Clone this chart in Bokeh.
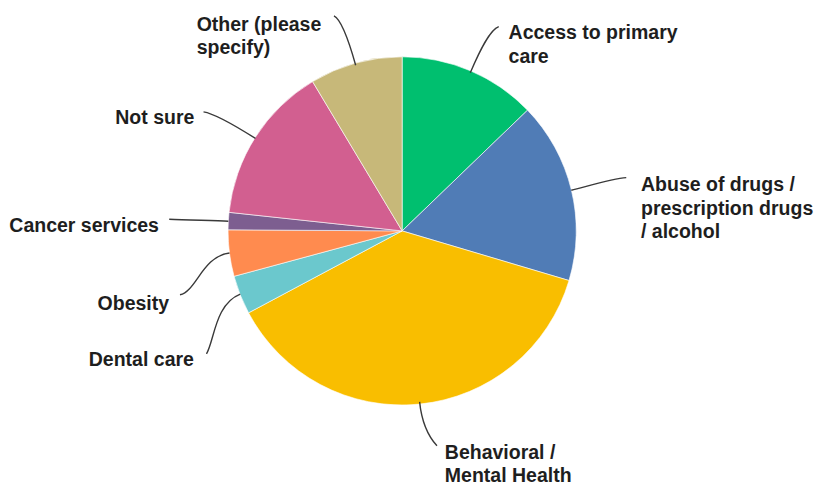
import math
from bokeh.plotting import figure
from bokeh.models import Range1d
from bokeh.core.properties import value
from bokeh.embed import file_html
from bokeh.resources import INLINE

# ---- data ----
categories = [
    "Access to primary\ncare",
    "Abuse of drugs /\nprescription drugs\n/ alcohol",
    "Behavioral /\nMental Health",
    "Dental care",
    "Obesity",
    "Cancer services",
    "Not sure",
    "Other (please\nspecify)",
]
percents = [12.8, 16.8, 37.6, 3.6, 4.3, 1.6, 14.7, 8.6]
colors = ["#00BF6F", "#507CB6", "#F9BE00", "#6BC8CD", "#FF8B4F", "#7D5E90", "#D25F90", "#C7B879"]

# ---- layout (reference pixel coords, y downward) ----
W, H = 834, 501
CX, CY, R = 409.5, 238.0, 177.5
# text anchor: left x, first baseline y
text_pos = [(518, 33), (653, 190), (453, 466), (90, 370), (99, 312), (9, 232), (117, 120), (200, 24)]
# leader end points and second control points
leader_end = [(508, 27), (638, 183), (445, 460), (210, 365), (183, 304), (172, 226), (207, 115), (340, 16)]
leader_c2 = [(499, 30), (624, 184), (436, 450), (218, 352), (200, 300), (190, 227), (220, 117), (348, 20)]
leader_ext = [25, 15, 22, 28, 28, 15, 20, 20]
LINE_H = 24


def fy(y):
    return H - y


p = figure(width=818, height=485, output_backend="svg", toolbar_location=None,
           x_range=Range1d(0, W), y_range=Range1d(fy(H), fy(0)),
           min_border=0, x_axis_location=None, y_axis_location=None)
p.grid.visible = False
p.outline_line_color = None
p.background_fill_color = "white"
p.border_fill_color = "white"

total = sum(percents)
cum = 0.0
for i, v in enumerate(percents):
    t0 = cum / total * 360.0
    t1 = (cum + v) / total * 360.0
    cum += v
    p.wedge(x=CX, y=fy(CY), radius=R, radius_units="data",
            start_angle=math.radians(90 - t1), end_angle=math.radians(90 - t0),
            fill_color=colors[i], line_color="white", line_width=0.6)
    tm = math.radians((t0 + t1) / 2)
    dx, dy = math.sin(tm), -math.cos(tm)
    x0, y0 = CX + R * dx, CY + R * dy
    c1x, c1y = x0 + leader_ext[i] * dx, y0 + leader_ext[i] * dy
    c2x, c2y = leader_c2[i]
    x1, y1 = leader_end[i]
    p.bezier(x0=[x0], y0=[fy(y0)], x1=[x1], y1=[fy(y1)],
             cx0=[c1x], cy0=[fy(c1y)], cx1=[c2x], cy1=[fy(c2y)],
             line_color="#3a3a3a", line_width=1.4)
    tx, ty = text_pos[i]
    lines = categories[i].split("\n")
    p.text(x=[tx] * len(lines), y=[fy(ty + k * LINE_H) for k in range(len(lines))], text=lines,
           text_font=value("Liberation Sans"), text_font_style="bold", text_font_size="19.5px",
           text_color="#1e1e1e", text_align="left", text_baseline="alphabetic")

open("out.html", "w").write(file_html(p, INLINE))
